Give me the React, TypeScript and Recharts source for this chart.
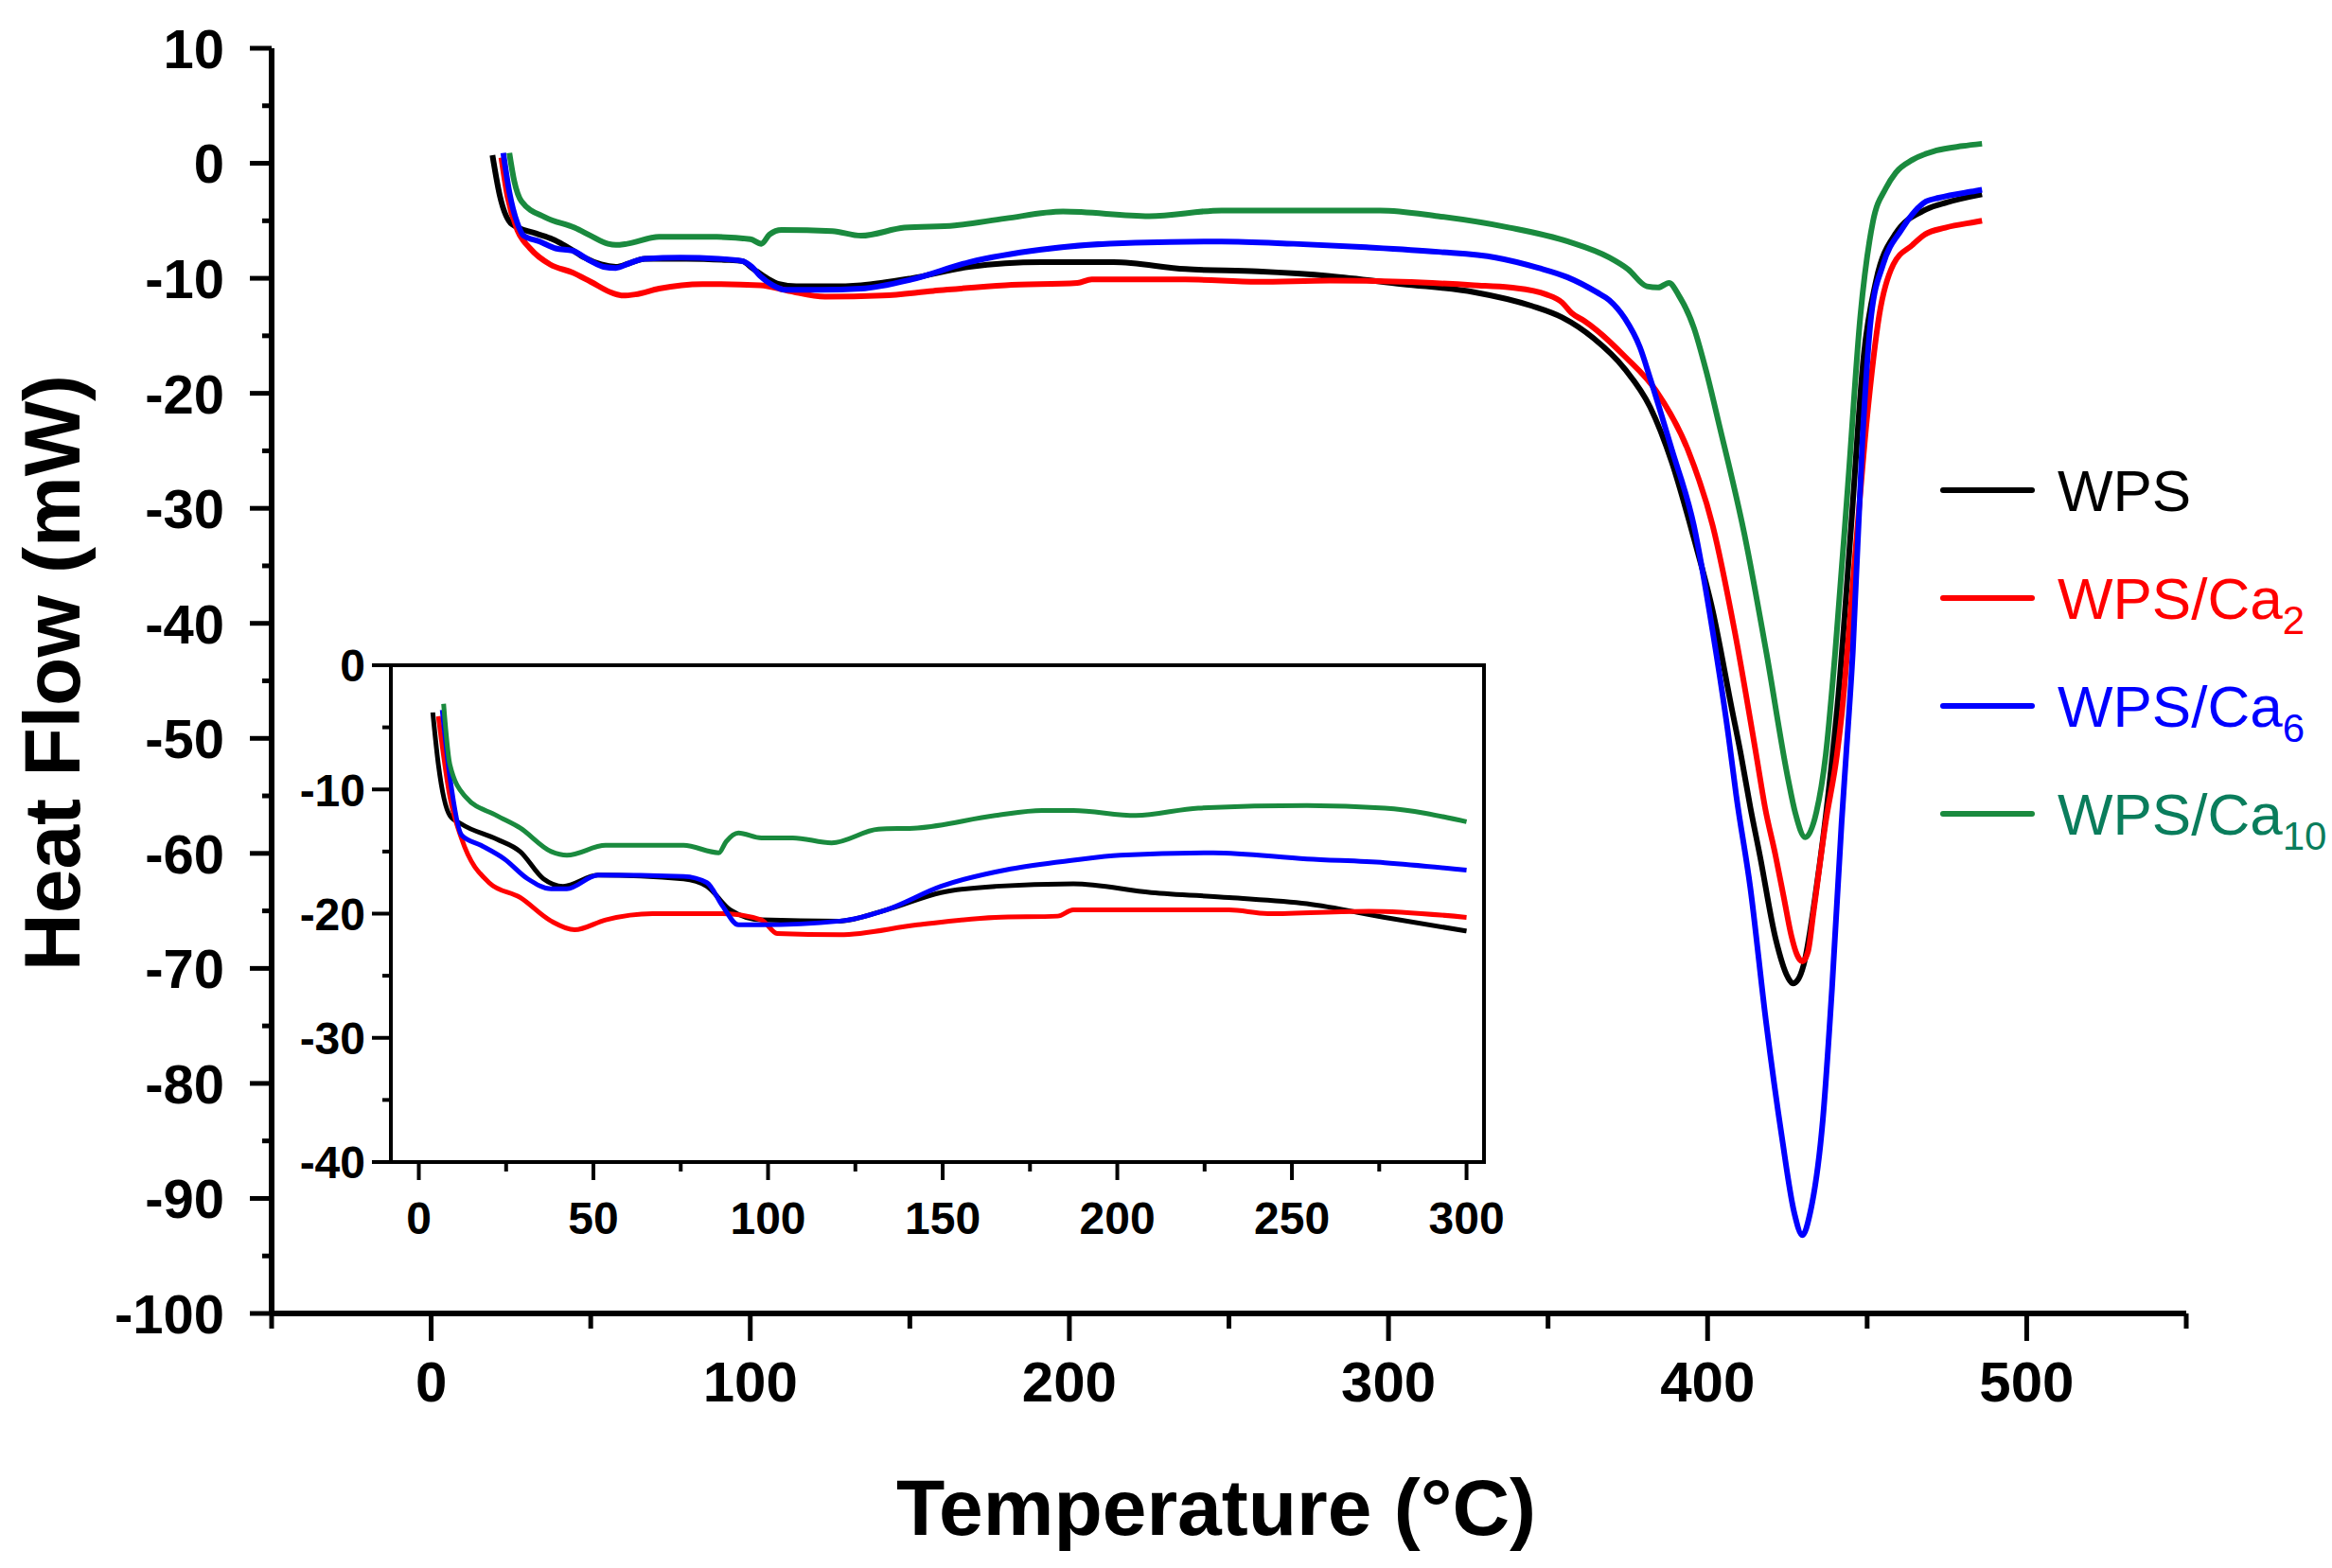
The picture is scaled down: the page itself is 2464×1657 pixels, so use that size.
import React from "react";
import { LineChart, Line, XAxis, YAxis, ReferenceArea } from "recharts";

// main DSC curves, [temperature °C, heat flow mW]
const wps = [
  [19.2, 0.7], [21.5, -2.8], [25.3, -5.3], [32.8, -6.1], [38, -6.6], [43.4, -7.4], [48, -8.2],
  [53.3, -8.8], [57.9, -9.0], [62, -8.7], [66.9, -8.3], [80, -8.3], [92, -8.4], [97.4, -8.5],
  [101, -9.2], [105.3, -10.0], [109, -10.5], [114.4, -10.7], [125, -10.7], [134.7, -10.6],
  [150.5, -10.0], [168.6, -9.0], [191.2, -8.6], [213.8, -8.6], [236.4, -9.2], [259, -9.4],
  [281.6, -9.8], [304.2, -10.5], [326.8, -11.2], [344.9, -12.4], [354.4, -13.4], [364.2, -15.2],
  [374.1, -17.9], [382, -21.2], [388.8, -26], [395.7, -32.6], [401.6, -38.9], [407.5, -47.3],
  [410.5, -51.5], [413.4, -56], [416.4, -60.2], [421.3, -67.4], [425.2, -70.8], [426.7, -71.3],
  [428.5, -70.9], [430.1, -69.7], [434.1, -63], [438, -54.4], [441, -46.2], [445, -31.5],
  [448.9, -16.8], [452.8, -10.2], [458.7, -6.2], [468.6, -4.0], [475, -3.4], [486, -2.7],
];
const wpsCa2 = [
  [22, 0.5], [24, -3], [27, -5.8], [31, -7.4], [37.3, -8.8], [44.3, -9.5], [50, -10.3],
  [57, -11.3], [60.1, -11.5], [64, -11.4], [71.4, -10.9], [85, -10.5], [103.1, -10.6],
  [112.1, -11.1], [123.4, -11.6], [141.5, -11.5], [157.3, -11.1], [179.9, -10.6], [202.5, -10.4],
  [207, -10.1], [236.4, -10.1], [259, -10.3], [281.6, -10.2], [304.2, -10.3], [326.8, -10.6],
  [338.1, -10.8], [349.4, -11.4], [354.4, -12.1], [357.3, -13.0], [361.3, -13.7], [365.2, -14.5],
  [374.1, -16.8], [383.9, -19.8], [393.8, -24.9], [401.6, -31.5], [408.5, -40.7], [415.4, -51.7],
  [418, -56], [421.3, -60.2], [424, -64], [426.2, -67.1], [428, -68.8], [429.7, -69.4],
  [431.5, -68.5], [433.1, -65.3], [437, -57.3], [440.5, -51.5], [442, -48], [445.9, -35.2],
  [449.9, -22.3], [453.8, -13.2], [458.2, -8.8], [464.2, -7.1], [468, -6.2], [474.5, -5.6],
  [484, -5.1], [486, -5.0],
];
const wpsCa6 = [
  [22.6, 0.9], [24.5, -2.5], [27, -5.2], [29, -6.3], [34, -6.8], [39, -7.4], [44.3, -7.6],
  [50, -8.5], [54, -9.0], [57.9, -9.1], [62, -8.7], [66.9, -8.3], [78.2, -8.2], [90, -8.3],
  [97.4, -8.5], [100.5, -9.0], [103.1, -9.8], [107, -10.6], [111, -11.0], [122, -11.0],
  [134.7, -10.9], [150.5, -10.1], [168.6, -8.6], [191.2, -7.5], [220.6, -6.9], [247.7, -6.8],
  [270.3, -7.0], [293, -7.3], [315.5, -7.7], [333.6, -8.2], [347, -9.1], [356, -9.9],
  [365.2, -11.2], [369.2, -11.9], [374.1, -13.5], [378.8, -16], [382, -18.7], [388.8, -24.9],
  [395.7, -31.5], [401.6, -40.7], [406.6, -49.9], [409, -55], [413.4, -63], [418.3, -74.6],
  [423.3, -84.7], [427.2, -91.3], [429.7, -93.2], [432.1, -91.3], [436.1, -83.2], [439, -71.7],
  [442, -57.3], [443.4, -51.5], [445.5, -42.5], [448.5, -24.2], [451.3, -13.2], [455, -8.8],
  [460.7, -5.8], [468.6, -3.3], [472.5, -3.0], [484, -2.4], [486, -2.3],
];
const wpsCa10 = [
  [24.5, 0.9], [26, -1.5], [28.3, -3.3], [35.7, -4.7], [44.9, -5.6], [50, -6.3], [55.4, -7.0],
  [57.9, -7.1], [61.4, -7.0], [71.4, -6.4], [89.5, -6.4], [100, -6.6], [103.5, -7.0], [106, -6.2],
  [109.8, -5.8], [125.7, -5.9], [134.7, -6.3], [148.3, -5.6], [164.1, -5.4], [179.9, -4.8],
  [198, -4.2], [225, -4.6], [247.7, -4.1], [270.3, -4.1], [297.4, -4.1], [315.5, -4.6],
  [338, -5.6], [356.2, -6.8], [369.2, -8.2], [375, -9.2], [381, -10.7], [384.5, -10.8],
  [387.9, -10.4], [391, -11.5], [395.7, -14.3], [399.5, -18], [403.6, -22.7], [411.5, -32.2],
  [418.4, -42.5], [425.2, -53.5], [427.5, -56.5], [430.6, -58.6], [434.1, -56.4],
  [437, -51.5], [440, -42.5], [444, -27.9], [447.9, -13.2], [451.8, -5.1], [455.8, -2.2],
  [459, -0.8], [464.2, 0.3], [471.5, 1.1], [480, 1.5], [486, 1.7],
];

// inset curves (0–300 °C)
const insetWps = [
  [4.0, -3.8], [5.6, -8.0], [8.9, -12.1], [12.3, -12.8], [22.3, -14.0], [29, -15.0], [35.7, -17.2],
  [41.3, -17.8], [51.3, -16.9], [75.8, -17.2], [82.5, -17.8], [89.2, -19.7], [98.1, -20.5],
  [120.5, -20.6], [133.8, -19.7], [149.5, -18.3], [165.1, -17.8], [187.4, -17.6], [209.7, -18.3],
  [232, -18.7], [254.3, -19.2], [276.6, -20.3], [300, -21.4],
];
const insetCa2 = [
  [5.6, -4.1], [8.9, -10.6], [12.3, -14.0], [20.1, -17.5], [29, -18.7], [37.9, -20.6],
  [44.6, -21.3], [53.5, -20.5], [66.9, -20.0], [87, -20.0], [98.1, -20.5], [102.6, -21.6],
  [120.5, -21.7], [142.8, -20.9], [165.1, -20.3], [182.9, -20.2], [187.4, -19.7], [232, -19.7],
  [243.1, -20.0], [272.1, -19.8], [300, -20.3],
];
const insetCa6 = [
  [6.7, -3.6], [8.9, -9.0], [12.3, -13.7], [17.8, -14.5], [24.5, -15.6], [31.2, -17.2],
  [37.9, -18.0], [42.4, -18.0], [51.3, -16.9], [75.8, -17.0], [82.5, -17.5], [87, -19.4],
  [91.5, -20.9], [98.1, -20.9], [120.5, -20.6], [133.8, -19.7], [149.5, -17.8], [169.5, -16.4],
  [187.4, -15.7], [200.8, -15.3], [227.5, -15.1], [254.3, -15.6], [276.6, -15.9], [300, -16.5],
];
const insetCa10 = [
  [7.1, -3.1], [8.9, -8.0], [13.4, -10.6], [22.3, -12.1], [29, -13.1], [37.9, -15.0],
  [42.4, -15.3], [53.5, -14.5], [75.8, -14.5], [85.9, -15.1], [88, -14.2], [91.5, -13.5],
  [98.1, -13.9], [107.1, -13.9], [118.2, -14.3], [131.6, -13.2], [142.8, -13.1], [165.1, -12.1],
  [178.5, -11.7], [187.4, -11.7], [205.3, -12.1], [223.2, -11.5], [254.3, -11.3], [276.6, -11.5],
  [300, -12.6],
];

const seriesNames = ["WPS", "WPS/Ca", "WPS/Ca", "WPS/Ca"];
const seriesSubs = ["", "2", "6", "10"];
const lineColors = ["#000000", "#ff0000", "#0000ff", "#1a8a3e"];
const textColors = ["#000000", "#ff0000", "#0000ff", "#0a7d5c"];

const mainXTicks = [-50, 0, 50, 100, 150, 200, 250, 300, 350, 400, 450, 500, 550];
const mainXLabels = [0, 100, 200, 300, 400, 500];
const mainYTicks = [-100, -95, -90, -85, -80, -75, -70, -65, -60, -55, -50, -45, -40, -35, -30, -25, -20, -15, -10, -5, 0, 5, 10];
const mainYLabels = [-100, -90, -80, -70, -60, -50, -40, -30, -20, -10, 0, 10];
const insetXTicks = [0, 25, 50, 75, 100, 125, 150, 175, 200, 225, 250, 275, 300];
const insetXLabels = [0, 50, 100, 150, 200, 250, 300];
const insetYTicks = [-40, -35, -30, -25, -20, -15, -10, -5, 0];
const insetYLabels = [-40, -30, -20, -10, 0];

const FONT = "'Liberation Sans', Arial, Helvetica, sans-serif";

const toPts = (arr: number[][]) => arr.map(([x, y]) => ({ x, y }));
const mainSeries = [wps, wpsCa2, wpsCa6, wpsCa10].map(toPts);
const insetSeries = [insetWps, insetCa2, insetCa6, insetCa10].map(toPts);

function makeXTick(labels: number[], major: number, minor: number, dy: number, size: number, sw: number) {
  return (props: any) => {
    const { x, y, payload } = props;
    const isMajor = labels.includes(payload.value);
    return (
      <g>
        <line x1={x} x2={x} y1={y} y2={y + (isMajor ? major : minor)} stroke="#000" strokeWidth={sw} />
        {isMajor && (
          <text x={x} y={y + dy} textAnchor="middle" fontFamily={FONT} fontWeight="bold" fontSize={size} fill="#000">
            {payload.value}
          </text>
        )}
      </g>
    );
  };
}

function makeYTick(labels: number[], major: number, minor: number, dx: number, size: number, sw: number) {
  return (props: any) => {
    const { x, y, payload } = props;
    const isMajor = labels.includes(payload.value);
    return (
      <g>
        <line x1={x} x2={x - (isMajor ? major : minor)} y1={y} y2={y} stroke="#000" strokeWidth={sw} />
        {isMajor && (
          <text x={x - dx} y={y} dy="0.36em" textAnchor="end" fontFamily={FONT} fontWeight="bold" fontSize={size} fill="#000">
            {payload.value}
          </text>
        )}
      </g>
    );
  };
}

const MainXTick = makeXTick(mainXLabels, 29, 16, 93, 60, 5);
const MainYTick = makeYTick(mainYLabels, 23, 10, 50, 58, 5);
const InsetXTick = makeXTick(insetXLabels, 19, 10, 76, 48, 4);
const InsetYTick = makeYTick(insetYLabels, 20, 9, 27, 48, 4);

function LegendBlock() {
  return (
    <div style={{ position: "absolute", left: 2050, top: 461, fontFamily: FONT }}>
      {seriesNames.map((name, i) => (
        <div key={i} style={{ display: "flex", alignItems: "center", height: 114 }}>
          <div style={{ width: 100, height: 6, borderRadius: 3, background: lineColors[i], marginRight: 24 }} />
          <span style={{ fontSize: 62, color: textColors[i], whiteSpace: "nowrap" }}>
            {name}
            {seriesSubs[i] && (
              <span style={{ fontSize: 42, position: "relative", top: 16 }}>{seriesSubs[i]}</span>
            )}
          </span>
        </div>
      ))}
    </div>
  );
}

export default function App() {
  return (
    <div style={{ position: "absolute", left: 0, top: 0, width: 2464, height: 1657, background: "#fff", overflow: "hidden" }}>
      <LineChart width={2464} height={1657} margin={{ top: 51, right: 154, bottom: 0, left: 0 }}>
        <XAxis
          dataKey="x"
          type="number"
          domain={[-50, 550]}
          allowDataOverflow
          ticks={mainXTicks}
          interval={0}
          height={269}
          tickSize={0}
          tickMargin={0}
          tickLine={false}
          axisLine={{ stroke: "#000", strokeWidth: 6 }}
          tick={<MainXTick />}
          label={{
            content: () => (
              <text x={1285} y={1622} textAnchor="middle" fontFamily={FONT} fontWeight="bold" fontSize={84} fill="#000">
                Temperature (°C)
              </text>
            ),
          }}
        />
        <YAxis
          type="number"
          domain={[-100, 10]}
          allowDataOverflow
          ticks={mainYTicks}
          interval={0}
          width={287}
          tickSize={0}
          tickMargin={0}
          tickLine={false}
          axisLine={{ stroke: "#000", strokeWidth: 6 }}
          tick={<MainYTick />}
          label={{
            content: () => (
              <text
                x={84}
                y={711}
                transform="rotate(-90 84 711)"
                textAnchor="middle"
                fontFamily={FONT}
                fontWeight="bold"
                fontSize={84}
                fill="#000"
              >
                Heat Flow (mW)
              </text>
            ),
          }}
        />
        {mainSeries.map((pts, i) => (
          <Line
            key={i}
            data={pts}
            dataKey="y"
            type="monotone"
            stroke={lineColors[i]}
            strokeWidth={6}
            dot={false}
            activeDot={false}
            isAnimationActive={false}
          />
        ))}
      </LineChart>

      <div style={{ position: "absolute", left: 300, top: 650, width: 1290, height: 680 }}>
        <LineChart width={1290} height={680} margin={{ top: 53, right: 22, bottom: 0, left: 0 }}>
          <XAxis
            dataKey="x"
            type="number"
            domain={[-8, 305]}
            allowDataOverflow
            ticks={insetXTicks}
            interval={0}
            height={102}
            tickSize={0}
            tickMargin={0}
            tickLine={false}
            axisLine={{ stroke: "#000", strokeWidth: 4 }}
            tick={<InsetXTick />}
          />
          <YAxis
            type="number"
            domain={[-40, 0]}
            allowDataOverflow
            ticks={insetYTicks}
            interval={0}
            width={113}
            tickSize={0}
            tickMargin={0}
            tickLine={false}
            axisLine={{ stroke: "#000", strokeWidth: 4 }}
            tick={<InsetYTick />}
          />
          <ReferenceArea x1={-8} x2={305} y1={-40} y2={0} fill="none" stroke="#000" strokeWidth={4} />
          {insetSeries.map((pts, i) => (
            <Line
              key={i}
              data={pts}
              dataKey="y"
              type="monotone"
              stroke={lineColors[i]}
              strokeWidth={5}
              dot={false}
              activeDot={false}
              isAnimationActive={false}
            />
          ))}
        </LineChart>
      </div>

      <LegendBlock />
    </div>
  );
}
